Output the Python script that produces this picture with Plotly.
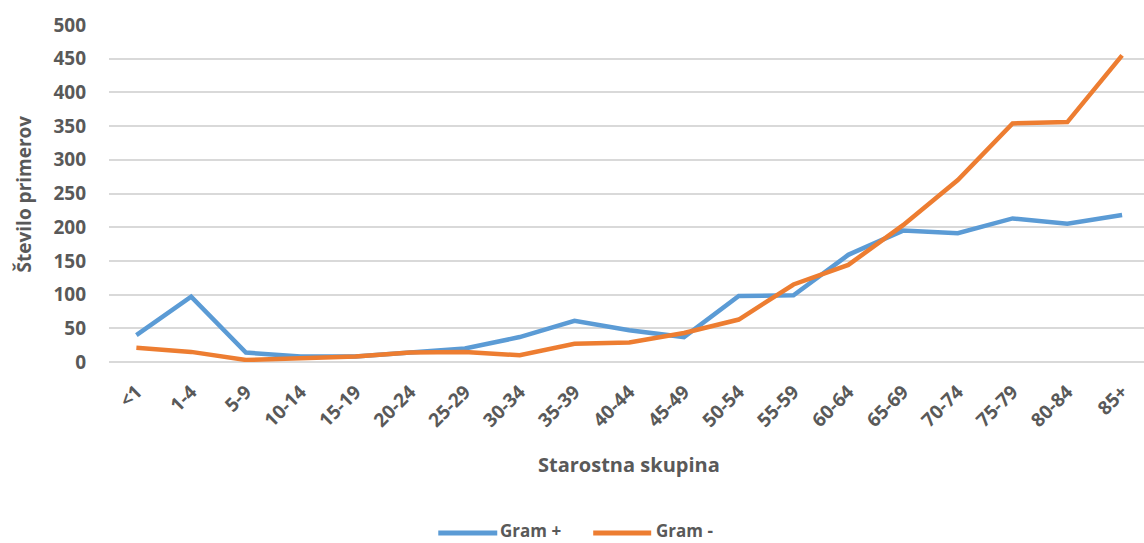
import plotly.graph_objects as go

categories = ["<1", "1-4", "5-9", "10-14", "15-19", "20-24", "25-29", "30-34", "35-39",
              "40-44", "45-49", "50-54", "55-59", "60-64", "65-69", "70-74", "75-79", "80-84", "85+"]
gram_pos = [40, 97, 14, 8, 8, 14, 20, 37, 61, 47, 37, 98, 99, 159, 195, 191, 213, 205, 218]
gram_neg = [21, 15, 3, 6, 8, 14, 15, 10, 27, 29, 43, 63, 115, 144, 203, 270, 354, 356, 455]
y_ticks = [0, 50, 100, 150, 200, 250, 300, 350, 400, 450, 500]
series_names = ["Gram +", "Gram -"]
series_colors = ["#5B9BD5", "#ED7D31"]

FONT = "Open Sans"
GRAY = "#595959"

W, H = 1144, 543
L, R, T, B = 108.6, 0, 25, 181
pw, ph = W - L - R, H - T - B


def px_x(x):
    return (x - L) / pw


def px_y(y):
    return (T + ph - y) / ph


fig = go.Figure()
for name, vals, col in zip(series_names, [gram_pos, gram_neg], series_colors):
    fig.add_trace(go.Scatter(x=categories, y=vals, mode="lines", name=name,
                             line=dict(color=col, width=4.5), showlegend=False))

# manual legend (longer line swatches as in reference)
legend_items = [(438, 497, 498), (593, 651, 654)]
shapes = []
annotations = []
for (x0, x1, xt), name, col in zip(legend_items, series_names, series_colors):
    shapes.append(dict(type="line", xref="paper", yref="paper",
                       x0=px_x(x0), x1=px_x(x1), y0=px_y(533), y1=px_y(533),
                       line=dict(color=col, width=5)))
    annotations.append(dict(text=name, xref="paper", yref="paper", x=px_x(xt), y=px_y(530),
                            xanchor="left", yanchor="middle", showarrow=False,
                            font=dict(family=FONT, size=17, color=GRAY, weight="bold")))

annotations += [
    dict(text="Starostna skupina", xref="paper", yref="paper",
         x=px_x(629), y=px_y(464), xanchor="center", yanchor="middle",
         showarrow=False, font=dict(family=FONT, size=20, color=GRAY, weight="bold")),
    dict(text="Število primerov", xref="paper", yref="paper",
         x=px_x(24), y=px_y(194), xanchor="center", yanchor="middle",
         textangle=-90, showarrow=False,
         font=dict(family=FONT, size=19, color=GRAY, weight="bold")),
]

fig.update_layout(
    width=W, height=H,
    margin=dict(l=L, r=R, t=T, b=B),
    plot_bgcolor="white", paper_bgcolor="white",
    font=dict(family=FONT, color=GRAY),
    showlegend=False,
    xaxis=dict(type="category", range=[-0.5, 18.4], tickangle=-45, automargin=False,
               showgrid=False, showline=False, ticks="", ticklabelstandoff=14,
               tickfont=dict(family=FONT, size=19, color=GRAY, weight="bold")),
    yaxis=dict(range=[0, 500], tickvals=y_ticks, showgrid=True, automargin=False,
               gridcolor="#d9d9d9", gridwidth=2, zeroline=True,
               zerolinecolor="#d9d9d9", zerolinewidth=2, showline=False,
               ticks="", ticklabelstandoff=22,
               tickfont=dict(family=FONT, size=19, color=GRAY, weight="bold")),
    shapes=shapes,
    annotations=annotations,
)

fig.write_html("out.html")
